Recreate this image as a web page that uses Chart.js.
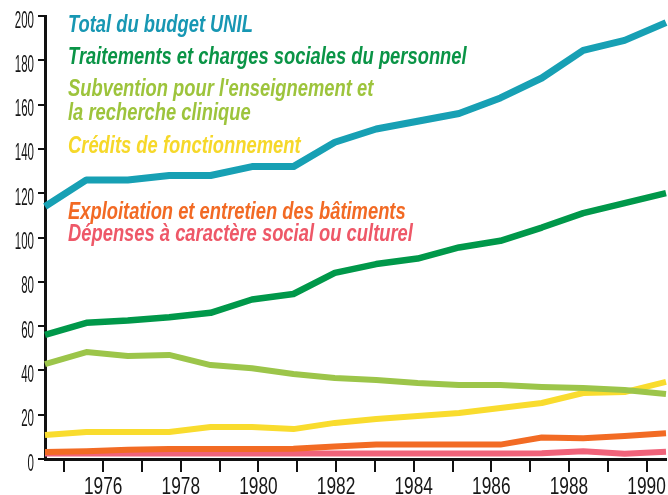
<!DOCTYPE html>
<html><head><meta charset="utf-8">
<script src="https://cdn.jsdelivr.net/npm/chart.js@4.4.1/dist/chart.umd.min.js"></script>
<style>html,body{margin:0;padding:0;background:#fff}#wrap{width:668px;height:495px;position:relative}</style>
</head><body><div id="wrap"><canvas id="c"></canvas></div>
<script>
// ---- data ----
const years = [1975,1976,1977,1978,1979,1980,1981,1982,1983,1984,1985,1986,1987,1988,1989,1990];
const tickYears = [1975,1976,1977,1978,1979,1980,1981,1982,1983,1984,1985,1986,1987,1988,1989,1990];
const yTickValues = [0,20,40,60,80,100,120,140,160,180,200];
const seriesNames = [
  "Total du budget UNIL",
  "Traitements et charges sociales du personnel",
  "Subvention pour l'enseignement et la recherche clinique",
  "Crédits de fonctionnement",
  "Exploitation et entretien des bâtiments",
  "Dépenses à caractère social ou culturel"
];
const legendLines = [
  ["Total du budget UNIL"],
  ["Traitements et charges sociales du personnel"],
  ["Subvention pour l'enseignement et", "la recherche clinique"],
  ["Crédits de fonctionnement"],
  ["Exploitation et entretien des bâtiments"],
  ["Dépenses à caractère social ou culturel"]
];
const totalBudget   = [114, 126, 126, 128, 128, 132, 132, 143, 149, 152.5, 156, 163, 172, 184.5, 189, 197];
const personnel     = [56, 61.5, 62.5, 64, 66, 72, 74.5, 84, 88, 90.5, 95.5, 98.5, 104.5, 111, 115.5, 120];
const subvention    = [42.8, 48.3, 46.5, 47, 42.4, 41, 38.4, 36.6, 35.7, 34.3, 33.4, 33.4, 32.5, 32, 31.2, 29.3];
const credits       = [10.8, 12.2, 12.2, 12.2, 14.4, 14.4, 13.5, 16.3, 18.1, 19.4, 20.8, 23, 25.3, 29.8, 30.2, 34.8];
const exploitation  = [3.2, 3.5, 4.2, 4.5, 4.5, 4.5, 4.6, 5.6, 6.6, 6.6, 6.5, 6.5, 9.7, 9.4, 10.4, 11.6];
const depenses      = [2.5, 2.5, 2.5, 2.5, 2.5, 2.5, 2.5, 2.5, 2.5, 2.5, 2.5, 2.5, 2.6, 3.5, 2.4, 3.3];

const seriesValues = [totalBudget, personnel, subvention, credits, exploitation, depenses];
const lineColors = ['#17a0b4', '#00984a', '#9cc54a', '#f9dc2e', '#f26b24', '#f0637a'];
const textColors = ['#1797b3', '#0a9446', '#9dc43c', '#f6d82a', '#f26a24', '#ee5868'];
const lineWidths = [7, 6.5, 6, 6, 6, 6];

const SANS = '"Liberation Sans", Arial, Helvetica, sans-serif';

function squishText(ctx, text, x, y, sx, align) {
  ctx.save();
  ctx.translate(x, y);
  ctx.scale(sx, 1);
  ctx.textAlign = align;
  ctx.fillText(text, 0, 0);
  ctx.restore();
}

const textPlugin = {
  id: 'narrowTexts',
  afterDraw(chart) {
    const ctx = chart.ctx;
    ctx.save();
    ctx.textBaseline = 'alphabetic';
    // inline legend
    const baselines = [[32], [64], [96, 120], [153], [219], [241]];
    ctx.font = 'italic bold 24px ' + SANS;
    legendLines.forEach((lines, i) => {
      ctx.fillStyle = textColors[i];
      lines.forEach((t, j) => squishText(ctx, t, 68, baselines[i][j], 0.765, 'left'));
    });
    // tick labels (narrow)
    ctx.fillStyle = '#161616';
    ctx.font = '24px ' + SANS;
    const ys = chart.scales.y;
    ys.ticks.forEach(t => {
      const py = ys.getPixelForValue(t.value);
      squishText(ctx, String(t.value), 34, py + 11.5, 0.48, 'right');
    });
    const xs = chart.scales.xt;
    xs.ticks.forEach(t => {
      if (t.value % 2 !== 0) return;
      const px = xs.getPixelForValue(t.value);
      squishText(ctx, String(t.value), px, 494, 0.72, 'center');
    });
    ctx.restore();
  }
};

new Chart(document.getElementById('c'), {
  type: 'line',
  data: {
    labels: years,
    datasets: seriesValues.map((vals, i) => ({
      label: seriesNames[i],
      data: vals,
      borderColor: lineColors[i],
      backgroundColor: lineColors[i],
      borderWidth: lineWidths[i],
      pointRadius: 0,
      tension: 0,
      fill: false,
      borderJoinStyle: 'round',
      borderCapStyle: 'butt',
      xAxisID: 'x'
    }))
  },
  options: {
    responsive: true,
    maintainAspectRatio: false,
    animation: false,
    layout: { padding: { top: 16, right: 2, left: 0, bottom: 0 } },
    plugins: { legend: { display: false }, tooltip: { enabled: false } },
    scales: {
      x: { type: 'category', display: false, offset: false },
      xt: {
        type: 'linear', position: 'bottom', min: 1974.5, max: 1990.5,
        afterBuildTicks(s) { s.ticks = tickYears.map(v => ({ value: v })); },
        afterFit(s) { s.height = 36; },
        grid: { drawOnChartArea: false, drawTicks: true, tickLength: 13, color: '#111', lineWidth: 2 },
        border: { display: true, color: '#111', width: 3 },
        ticks: { display: false }
      },
      y: {
        min: 0, max: 200,
        afterBuildTicks(s) { s.ticks = yTickValues.map(v => ({ value: v })); },
        afterFit(s) { s.width = 45; },
        grid: { drawOnChartArea: false, drawTicks: true, tickLength: 7, color: '#111', lineWidth: 2 },
        border: { display: true, color: '#111', width: 3 },
        ticks: { display: false }
      }
    }
  },
  plugins: [textPlugin]
});
</script>
</body></html>
